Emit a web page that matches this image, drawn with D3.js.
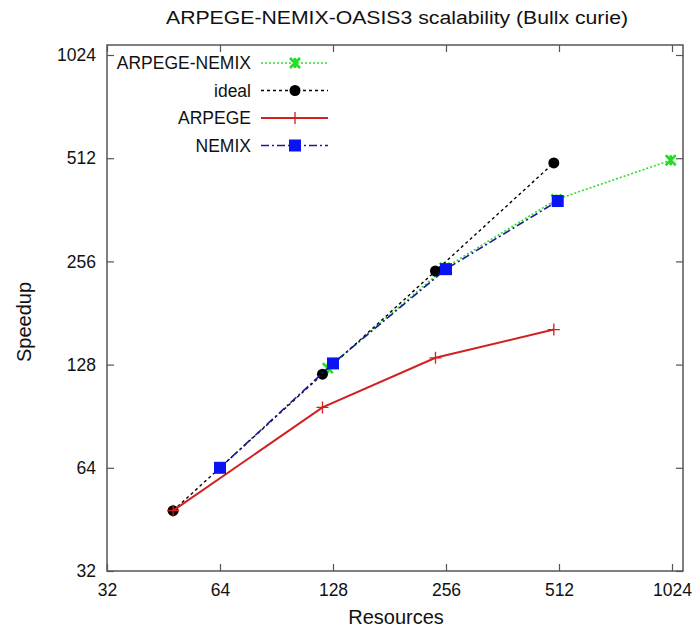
<!DOCTYPE html>
<html>
<head>
<meta charset="utf-8">
<script src="https://cdn.jsdelivr.net/npm/d3@7"></script>
<style>
  body { margin: 0; background: white; }
  text { font-family: "Liberation Sans", Arial, sans-serif; fill: #111; }
</style>
</head>
<body>
<div id="chart"></div>
<script>
// Data
const tickValues = [32, 64, 128, 256, 512, 1024];

const seriesNames = ["ARPEGE-NEMIX", "ideal", "ARPEGE", "NEMIX"];

const arpegeNemixX = [124, 254, 504, 1016];
const arpegeNemixY = [125, 245, 388, 505];

const idealX = [48, 120, 240, 496];
const idealY = [48, 120, 240, 496];

const arpegeX = [48, 120, 240, 496];
const arpegeY = [48, 96, 134, 162];

const nemixX = [64, 128, 256, 508];
const nemixY = [64, 129, 243, 384];

const width = 695, height = 632;

const svg = d3.select("#chart").append("svg")
    .attr("width", width)
    .attr("height", height);

svg.append("rect")
    .attr("width", width)
    .attr("height", height)
    .attr("fill", "white");

// Plot box (gnuplot leaves some room past the last tick)
const boxLeft = 107, boxRight = 683, boxTop = 45, boxBottom = 571;

const x = d3.scaleLog().base(2).domain([32, 1024]).range([boxLeft, 672]);
const y = d3.scaleLog().base(2).domain([32, 1024]).range([boxBottom, 55]);

// Title
svg.append("text")
    .attr("x", 397)
    .attr("y", 24)
    .attr("text-anchor", "middle")
    .attr("font-size", 18)
    .attr("textLength", 462)
    .attr("lengthAdjust", "spacingAndGlyphs")
    .text("ARPEGE-NEMIX-OASIS3 scalability (Bullx curie)");

// Axes with inward ticks on all sides
const tickLen = 7;
const axisColor = "#555";

const bottomAxis = svg.append("g")
    .attr("transform", `translate(0,${boxBottom})`)
    .call(d3.axisBottom(x).tickValues(tickValues).tickSize(-tickLen).tickPadding(13).tickFormat(d3.format("d")));
const topAxis = svg.append("g")
    .attr("transform", `translate(0,${boxTop})`)
    .call(d3.axisTop(x).tickValues(tickValues).tickSize(-tickLen).tickFormat(""));
const leftAxis = svg.append("g")
    .attr("transform", `translate(${boxLeft},0)`)
    .call(d3.axisLeft(y).tickValues(tickValues).tickSize(-tickLen).tickPadding(11).tickFormat(d3.format("d")));
const rightAxis = svg.append("g")
    .attr("transform", `translate(${boxRight},0)`)
    .call(d3.axisRight(y).tickValues(tickValues).tickSize(-tickLen).tickFormat(""));

[bottomAxis, topAxis, leftAxis, rightAxis].forEach(g => {
    g.select(".domain").remove();
    g.selectAll(".tick line").attr("stroke", axisColor).attr("stroke-width", 1.2);
    g.selectAll(".tick text")
        .attr("font-size", 17.5)
        .attr("font-family", "Liberation Sans, Arial, sans-serif")
        .attr("fill", "#111");
});

svg.append("rect")
    .attr("x", boxLeft)
    .attr("y", boxTop)
    .attr("width", boxRight - boxLeft)
    .attr("height", boxBottom - boxTop)
    .attr("fill", "none")
    .attr("stroke", axisColor)
    .attr("stroke-width", 1.5);

// Axis titles
svg.append("text")
    .attr("x", 396)
    .attr("y", 624)
    .attr("text-anchor", "middle")
    .attr("font-size", 20)
    .text("Resources");

svg.append("text")
    .attr("transform", "translate(31,322) rotate(-90)")
    .attr("text-anchor", "middle")
    .attr("font-size", 20)
    .text("Speedup");

// Series styles
const styles = {
    "ARPEGE-NEMIX": { color: "#2edc2e", width: 1.6, dash: "2,2", marker: "x" },
    "ideal": { color: "#000", width: 1.4, dash: "3,3", marker: "circle" },
    "ARPEGE": { color: "#d02020", width: 2, dash: null, marker: "plus" },
    "NEMIX": { color: "#1a1a9c", width: 1.6, dash: "8,3,2,3", marker: "square" }
};

const seriesData = {
    "ARPEGE-NEMIX": d3.zip(arpegeNemixX, arpegeNemixY),
    "ideal": d3.zip(idealX, idealY),
    "ARPEGE": d3.zip(arpegeX, arpegeY),
    "NEMIX": d3.zip(nemixX, nemixY)
};

function drawMarker(g, type, cx, cy) {
    if (type === "x") {
        g.append("path")
            .attr("d", `M${cx - 5},${cy - 5}L${cx + 5},${cy + 5}M${cx - 5},${cy + 5}L${cx + 5},${cy - 5}M${cx},${cy - 5}L${cx},${cy + 5}`)
            .attr("stroke", "#22dd22")
            .attr("stroke-width", 2.6)
            .attr("fill", "none");
    } else if (type === "circle") {
        g.append("circle")
            .attr("cx", cx).attr("cy", cy).attr("r", 5.5)
            .attr("fill", "#000");
    } else if (type === "plus") {
        g.append("path")
            .attr("d", `M${cx - 6},${cy}L${cx + 6},${cy}M${cx},${cy - 6}L${cx},${cy + 6}`)
            .attr("stroke", "#d02020")
            .attr("stroke-width", 1.3)
            .attr("fill", "none");
    } else if (type === "square") {
        g.append("rect")
            .attr("x", cx - 6).attr("y", cy - 6)
            .attr("width", 12).attr("height", 12)
            .attr("fill", "#0a14f0");
    }
}

const line = d3.line().x(d => x(d[0])).y(d => y(d[1]));

// Plot in gnuplot order, later series on top
seriesNames.forEach(name => {
    const s = styles[name];
    const g = svg.append("g");
    g.append("path")
        .datum(seriesData[name])
        .attr("d", line)
        .attr("fill", "none")
        .attr("stroke", s.color)
        .attr("stroke-width", s.width)
        .attr("stroke-dasharray", s.dash);
    seriesData[name].forEach(d => drawMarker(g, s.marker, x(d[0]), y(d[1])));
});

// Legend, top left inside the box
const legendY = d3.scaleLinear().domain([0, 1]).range([63, 90.5]);
seriesNames.forEach((name, i) => {
    const s = styles[name];
    const ly = legendY(i);
    const g = svg.append("g");
    g.append("text")
        .attr("x", 251)
        .attr("y", ly)
        .attr("dy", "0.36em")
        .attr("text-anchor", "end")
        .attr("font-size", 17.5)
        .text(name);
    g.append("line")
        .attr("x1", 261).attr("x2", 328)
        .attr("y1", ly).attr("y2", ly)
        .attr("stroke", s.color)
        .attr("stroke-width", s.width)
        .attr("stroke-dasharray", s.dash);
    drawMarker(g, s.marker, 295, ly);
});
</script>
</body>
</html>
